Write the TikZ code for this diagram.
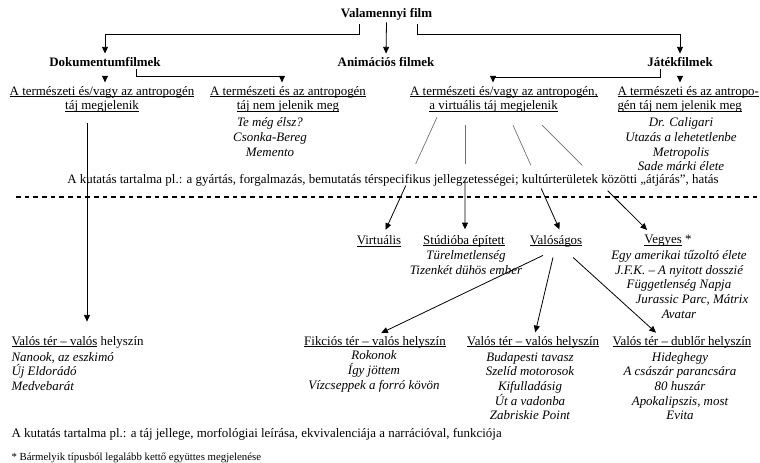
\documentclass[tikz,border=0pt]{standalone}
\usepackage{fontspec}
\setmainfont{Liberation Serif}
\usetikzlibrary{calc,arrows.meta}

\newcommand{\uln}[1]{\setbox0\hbox{#1}\rlap{\rule[-1.4pt]{\wd0}{0.5pt}}\box0\relax}

\tikzset{every picture/.style={line width=0.75pt}}
\tikzset{
	txt/.style={font=\fontsize{9.7}{11}\selectfont, inner sep=1.5pt},
	hd/.style={font=\fontsize{9.7}{11}\selectfont\bfseries, inner sep=1.5pt},
	lst/.style={font=\fontsize{9.7}{11}\selectfont\itshape, inner sep=1.5pt, align=center},
	arr/.style={-{Triangle[width=4.5pt,length=5pt]}, line width=0.6pt, shorten >=1pt},
	cut/.style={line width=0.5pt, color={rgb, 255:red, 110; green, 110; blue, 110 }}
}

\begin{document}
\begin{tikzpicture}[x=0.75pt,y=0.75pt,yscale=-1,xscale=1]
	\useasboundingbox (0,0) rectangle (760,463);

	% Text Node
	\draw (386.5,14) node (all) [hd] {Valamennyi film};
	% Text Node
	\draw (105,62) node (dok) [hd] {Dokumentumfilmek};
	% Text Node
	\draw (386,62) node (anim) [hd] {Animációs filmek};
	% Text Node
	\draw (680,62) node (jat) [hd] {Játékfilmek};

	% Text Node
	\draw (102,99.5) node (dokA) [txt, align=center] {\uln{A természeti és/vagy az antropogén}\\\uln{táj megjelenik}};
	% Text Node
	\draw (288,99.5) node (dokB) [txt, align=center] {\uln{A természeti és az antropogén}\\\uln{táj nem jelenik meg}};
	% Text Node
	\draw (270,137) node (dokBl) [lst] {Te még élsz?\\Csonka-Bereg\\Memento};
	% Text Node
	\draw (504,99.5) node (vir) [txt, align=left] {\uln{A természeti és/vagy az antropogén,}\\\hspace*{1.5em}\uln{a virtuális táj megjelenik}};
	% Text Node
	\draw (615,99.5) node (jatB) [txt, align=left, anchor=west] {\uln{A természeti és az antropo-}\\\uln{gén táj nem jelenik meg}};
	% Text Node
	\draw (681,144.5) node (jatBl) [lst] {Dr. Caligari\\Utazás a lehetetlenbe\\Metropolis\\Sade márki élete};

	% Text Node
	\draw (393,180) node (kut1) [txt] {A kutatás tartalma pl.: a gyártás, forgalmazás, bemutatás térspecifikus jellegzetességei; kultúrterületek közötti „átjárás”, hatás};

	%Straight Lines
	\draw [dash pattern=on 3.5pt off 3pt, line width=0.9pt] (16,197) -- (760,197);

	% Text Node
	\draw (379,241) node (virt) [txt] {\uln{Virtuális}};
	% Text Node
	\draw (464,241) node (stud) [txt] {\uln{Stúdióba épített}};
	% Text Node
	\draw (466,262.5) node (studl) [lst] {Türelmetlenség\\Tizenkét dühös ember};
	% Text Node
	\draw (556,241) node (val) [txt] {\uln{Valóságos}};
	% Text Node
	\draw (668,241) node (veg) [txt] {\uln{Vegyes} *};
	% Text Node
	\draw (679,284.5) node (vegl) [lst] {Egy amerikai tűzoltó élete\\J.F.K. – A nyitott dosszié\\Függetlenség Napja\\\hspace*{2em}Jurassic Parc, Mátrix\\Avatar};

	% Text Node
	\draw (9,342) node (valL) [txt, anchor=west] {\uln{Valós tér – valós} helyszín};
	% Text Node
	\draw (9,371.5) node (valLl) [lst, align=left, anchor=west] {Nanook, az eszkimó\\Új Eldorádó\\Medvebarát};
	% Text Node
	\draw (375,342) node (fik) [txt] {\uln{Fikciós tér – valós helyszín}};
	% Text Node
	\draw (374,371.5) node (fikl) [lst] {Rokonok\\Így jöttem\\Vízcseppek a forró kövön};
	% Text Node
	\draw (533,342) node (valM) [txt] {\uln{Valós tér – valós helyszín}};
	% Text Node
	\draw (530,386) node (valMl) [lst] {Budapesti tavasz\\Szelíd motorosok\\Kifulladásig\\Út a vadonba\\Zabriskie Point};
	% Text Node
	\draw (682,342) node (dub) [txt] {\uln{Valós tér – dublőr helyszín}};
	% Text Node
	\draw (680,386) node (dubl) [lst] {Hideghegy\\A császár parancsára\\80 huszár\\Apokalipszis, most\\Evita};

	% Text Node
	\draw (9,434) node (kut2) [txt, anchor=west] {A kutatás tartalma pl.: a táj jellege, morfológiai leírása, ekvivalenciája a narrációval, funkciója};
	% Text Node
	\draw (9,458) node (foot) [inner sep=1.5pt, anchor=west, font=\fontsize{8.1}{9}\selectfont] {* Bármelyik típusból legalább kettő együttes megjelenése};

	%Straight Lines
	\draw [arr] ($(all.south)+(-27.5,2)$) -- ++(0,10) -| (dok.north);
	\draw [arr] (all.south) -- (anim.north);
	\draw [arr] ($(all.south)+(30.5,2)$) -- ++(0,10) -| (jat.north);

	%Straight Lines
	\draw [arr, shorten <=6pt] (dok.south) -- (dok.south |- dokA.north);
	\draw [arr] ($(dok.south)+(31,0)$) -- ++(0,7) -| ($(dokB.north)+(-6,0)$);
	\draw [arr] ($(jat.south)+(-20,0)$) -- ++(0,8) -| ($(vir.north)+(-11,0)$);
	\draw [arr, shorten <=6pt] (jat.south) -- (jat.south |- jatB.north);

	%Straight Lines
	\coordinate (d1) at ($(dokA.south)+(-15,8)$);
	\draw [arr, shorten >=9pt] (d1) -- (d1 |- valL.north);

	%Straight Lines
	\coordinate (a1) at ($(vir.south)+(-67,2)$);
	\coordinate (b1) at ($(virt.north)+(6,-2)$);
	\draw [cut] (a1) -- ($(a1)!0.41!(b1)$);
	\draw [arr] ($(a1)!0.6!(b1)$) -- (b1);
	\coordinate (a2) at ($(vir.south)+(-39,10)$);
	\coordinate (b2) at ($(stud.north)+(1,-2)$);
	\draw [cut] (a2) -- ($(a2)!0.37!(b2)$);
	\draw [arr] ($(a2)!0.53!(b2)$) -- (b2);
	\coordinate (a3) at ($(vir.south)+(9,10)$);
	\coordinate (b3) at ($(val.north)+(4,-2)$);
	\draw [cut] (a3) -- ($(a3)!0.38!(b3)$);
	\draw [arr] ($(a3)!0.6!(b3)$) -- (b3);
	\coordinate (a4) at ($(vir.south)+(38,10)$);
	\coordinate (b4) at ($(veg.north)+(-20,-2)$);
	\draw [cut] (a4) -- ($(a4)!0.38!(b4)$);
	\draw [arr] ($(a4)!0.62!(b4)$) -- (b4);

	%Straight Lines
	\draw [arr] ($(val.south)+(-13,6)$) -- ($(fik.north)+(5,0)$);
	\draw [arr] ($(val.south)+(-3,8)$) -- ($(valM.north)+(2,0)$);
	\draw [arr] ($(val.south)+(17,8)$) -- ($(dub.north)+(-25,0)$);

\end{tikzpicture}
\end{document}
